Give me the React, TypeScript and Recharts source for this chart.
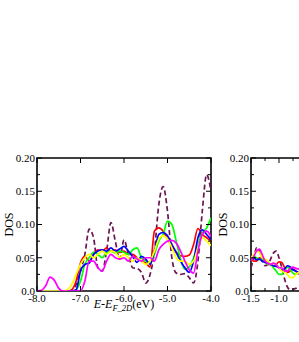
import { LineChart, Line, XAxis, YAxis, ReferenceArea } from "recharts";

// energy grids (eV)
const energyLeft = [
  -8.0, -7.9, -7.8, -7.7, -7.6, -7.5, -7.4, -7.3, -7.2, -7.1, -7.0, -6.9, -6.8, -6.7,
  -6.6, -6.5, -6.4, -6.3, -6.2, -6.1, -6.0, -5.9, -5.8, -5.7, -5.6, -5.5, -5.4, -5.3,
  -5.2, -5.1, -5.0, -4.9, -4.8, -4.7, -4.6, -4.5, -4.4, -4.3, -4.2, -4.1, -4.0,
];
const energyRight = [
  -1.5, -1.45, -1.4, -1.35, -1.3, -1.25, -1.2, -1.15, -1.1, -1.05, -1.0, -0.95, -0.9,
  -0.85, -0.8, -0.75, -0.7, -0.65, -0.6, -0.55, -0.5,
];

// DOS values, left window
const dashedLeft = [
  0, 0, 0, 0, 0, 0, 0, 0, 0, 0.01, 0.03, 0.055, 0.093, 0.08, 0.035, 0.03, 0.06, 0.103,
  0.075, 0.048, 0.077, 0.055, 0.035, 0.034, 0.028, 0.012, 0.025, 0.06, 0.13, 0.157, 0.12,
  0.05, 0.027, 0.025, 0.026, 0.02, 0.012, 0.045, 0.12, 0.175, 0.15,
];
const redLeft = [
  0, 0, 0, 0, 0, 0, 0, 0, 0.002, 0.015, 0.042, 0.052, 0.045, 0.055, 0.062, 0.06, 0.065,
  0.06, 0.062, 0.058, 0.06, 0.055, 0.055, 0.05, 0.045, 0.042, 0.036, 0.09, 0.095, 0.09,
  0.078, 0.068, 0.058, 0.053, 0.052, 0.054, 0.07, 0.094, 0.085, 0.08, 0.075,
];
const greenLeft = [
  0, 0, 0, 0, 0, 0, 0, 0, 0, 0.002, 0.015, 0.04, 0.05, 0.058, 0.055, 0.05, 0.058, 0.06,
  0.057, 0.06, 0.058, 0.055, 0.062, 0.065, 0.05, 0.045, 0.042, 0.055, 0.075, 0.085, 0.105,
  0.1, 0.075, 0.048, 0.033, 0.036, 0.05, 0.07, 0.087, 0.095, 0.11,
];
const blueLeft = [
  0, 0, 0, 0, 0, 0, 0, 0, 0, 0.002, 0.03, 0.04, 0.042, 0.055, 0.06, 0.062, 0.06, 0.065,
  0.06, 0.063, 0.067, 0.06, 0.052, 0.043, 0.052, 0.048, 0.04, 0.06, 0.085, 0.088, 0.083,
  0.07, 0.058, 0.045, 0.035, 0.028, 0.045, 0.08, 0.092, 0.085, 0.077,
];
const yellowLeft = [
  0, 0, 0, 0, 0, 0, 0, 0.002, 0.01, 0.025, 0.04, 0.05, 0.055, 0.05, 0.055, 0.06, 0.055,
  0.06, 0.058, 0.05, 0.055, 0.05, 0.045, 0.05, 0.045, 0.04, 0.045, 0.06, 0.078, 0.083,
  0.078, 0.065, 0.05, 0.045, 0.045, 0.04, 0.045, 0.065, 0.08, 0.075, 0.068,
];
const magentaLeft = [
  0, 0.001, 0.008, 0.021, 0.016, 0.004, 0, 0, 0, 0, 0, 0.015, 0.045, 0.045, 0.035, 0.03,
  0.045, 0.055, 0.05, 0.048, 0.05, 0.045, 0.052, 0.048, 0.045, 0.05, 0.05, 0.045, 0.062,
  0.07, 0.075, 0.076, 0.072, 0.06, 0.045, 0.032, 0.027, 0.06, 0.085, 0.09, 0.082,
];

// DOS values, right window
const dashedRight = [
  0.035, 0.05, 0.065, 0.06, 0.045, 0.038, 0.04, 0.048, 0.057, 0.06, 0.05, 0.035, 0.018,
  0.006, 0.002, 0.003, 0.004, 0.006, 0.01, 0.015, 0.02,
];
const redRight = [
  0.047, 0.045, 0.045, 0.05, 0.048, 0.045, 0.04, 0.04, 0.038, 0.04, 0.044, 0.043, 0.035,
  0.028, 0.03, 0.033, 0.03, 0.026, 0.025, 0.025, 0.025,
];
const greenRight = [
  0.05, 0.052, 0.05, 0.047, 0.048, 0.045, 0.04, 0.04, 0.035, 0.03, 0.025, 0.025, 0.032,
  0.036, 0.032, 0.027, 0.025, 0.027, 0.028, 0.027, 0.026,
];
const blueRight = [
  0.052, 0.05, 0.047, 0.048, 0.045, 0.043, 0.042, 0.04, 0.038, 0.037, 0.035, 0.032, 0.033,
  0.038, 0.036, 0.032, 0.03, 0.028, 0.027, 0.027, 0.026,
];
const yellowRight = [
  0.05, 0.055, 0.06, 0.058, 0.05, 0.048, 0.045, 0.04, 0.042, 0.04, 0.035, 0.03, 0.028,
  0.025, 0.02, 0.02, 0.025, 0.028, 0.03, 0.03, 0.029,
];
const magentaRight = [
  0.045, 0.052, 0.06, 0.063, 0.055, 0.045, 0.042, 0.04, 0.042, 0.04, 0.035, 0.035, 0.03,
  0.03, 0.034, 0.036, 0.034, 0.033, 0.03, 0.029, 0.028,
];

const yTicks = [0, 0.025, 0.05, 0.075, 0.1, 0.125, 0.15, 0.175, 0.2];
const xTicksLeft = [-8, -7, -6, -5, -4];
const xTicksRight = [-1.5, -1.25, -1.0, -0.75];

const FONT = "Liberation Serif, Times New Roman, serif";
const MAROON = "#6b1452";

const leftRows = energyLeft.map((e, i) => ({
  e,
  dashed: dashedLeft[i],
  red: redLeft[i],
  green: greenLeft[i],
  blue: blueLeft[i],
  yellow: yellowLeft[i],
  magenta: magentaLeft[i],
}));
const rightRows = energyRight.map((e, i) => ({
  e,
  dashed: dashedRight[i],
  red: redRight[i],
  green: greenRight[i],
  blue: blueRight[i],
  yellow: yellowRight[i],
  magenta: magentaRight[i],
}));

const PLOT_TOP = 158;
const PLOT_H = 133;
const MARGIN = 2;

function YTick(props: any) {
  const { x, y, payload, plotW } = props;
  const v = payload.value as number;
  const major = Math.abs(v * 20 - Math.round(v * 20)) < 1e-6;
  const ax = x + MARGIN;
  const len = major ? 5 : 3;
  return (
    <g>
      <line x1={ax} x2={ax + len} y1={y} y2={y} stroke="#000" strokeWidth={1} />
      <line x1={ax + plotW - len} x2={ax + plotW} y1={y} y2={y} stroke="#000" strokeWidth={1} />
      {major && (
        <text x={x} y={y} dy="0.35em" textAnchor="end" fontFamily={FONT} fontSize={11} fill="#000">
          {v === 0 ? "0.0" : v.toFixed(2)}
        </text>
      )}
    </g>
  );
}

function XTick(props: any) {
  const { x, y, payload, step } = props;
  const v = payload.value as number;
  const major = Math.abs(v / step - Math.round(v / step)) < 1e-6;
  const bottom = PLOT_TOP + PLOT_H;
  const len = major ? 5 : 3;
  return (
    <g>
      <line x1={x} x2={x} y1={bottom} y2={bottom - len} stroke="#000" strokeWidth={1} />
      <line x1={x} x2={x} y1={PLOT_TOP} y2={PLOT_TOP + len} stroke="#000" strokeWidth={1} />
      {major && (
        <text x={x} y={y} dy="0.71em" textAnchor="middle" fontFamily={FONT} fontSize={11} fill="#000">
          {v.toFixed(1)}
        </text>
      )}
    </g>
  );
}

function DosLabel({ viewBox }: any) {
  const cx = viewBox.x + 6.3;
  const cy = PLOT_TOP + PLOT_H / 2;
  return (
    <text x={cx} y={cy} textAnchor="middle" transform={`rotate(-90, ${cx}, ${cy})`} fontFamily={FONT} fontSize={12} fill="#000">
      DOS
    </text>
  );
}

function EnergyLabel({ viewBox }: any) {
  const cx = viewBox.x + viewBox.width / 2;
  const by = PLOT_TOP + PLOT_H + 17;
  return (
    <text x={cx} y={by} textAnchor="middle" fontFamily={FONT} fontSize={12} fill="#000">
      <tspan fontStyle="italic">E-E</tspan>
      <tspan fontStyle="italic" fontSize={8.5} dy={3}>F_2D</tspan>
      <tspan dy={-3}>(eV)</tspan>
    </text>
  );
}

function Series() {
  const w = 1.7;
  return [
    <Line key="d" dataKey="dashed" type="monotone" stroke={MAROON} strokeWidth={w} strokeDasharray="5 3" dot={false} isAnimationActive={false} />,
    <Line key="r" dataKey="red" type="monotone" stroke="#ff0000" strokeWidth={w} dot={false} isAnimationActive={false} />,
    <Line key="g" dataKey="green" type="monotone" stroke="#00ff00" strokeWidth={w} dot={false} isAnimationActive={false} />,
    <Line key="b" dataKey="blue" type="monotone" stroke="#0000ff" strokeWidth={w} dot={false} isAnimationActive={false} />,
    <Line key="y" dataKey="yellow" type="monotone" stroke="#ffff00" strokeWidth={w} dot={false} isAnimationActive={false} />,
    <Line key="m" dataKey="magenta" type="monotone" stroke="#ff00ff" strokeWidth={w} dot={false} isAnimationActive={false} />,
  ];
}

export default function App() {
  return (
    <div style={{ position: "absolute", left: 0, top: 0, width: 299, height: 342, overflow: "hidden", background: "#fff" }}>
      <div style={{ position: "absolute", left: 0, top: 0 }}>
        <LineChart width={230} height={342} data={leftRows} margin={{ top: PLOT_TOP, right: 19, bottom: 21, left: 7 }}>
          <XAxis
            dataKey="e"
            type="number"
            domain={[-8, -4]}
            ticks={xTicksLeft}
            interval={0}
            allowDataOverflow
            axisLine={false}
            tickLine={false}
            tickSize={0}
            tickMargin={3}
            height={30}
            tick={(p: any) => <XTick {...p} step={1} />}
            label={{ content: (p: any) => <EnergyLabel {...p} /> }}
          />
          <YAxis
            type="number"
            domain={[0, 0.2]}
            ticks={yTicks}
            interval={0}
            allowDataOverflow
            axisLine={false}
            tickLine={false}
            tickSize={0}
            tickMargin={MARGIN}
            width={30}
            tick={(p: any) => <YTick {...p} plotW={174} />}
            label={{ content: (p: any) => <DosLabel {...p} /> }}
          />
          <ReferenceArea x1={-8} x2={-4} y1={0} y2={0.2} fill="none" stroke="#000" strokeWidth={1.6} ifOverflow="visible" />
          {Series()}
        </LineChart>
      </div>
      <div style={{ position: "absolute", left: 215, top: 0 }}>
        <LineChart width={152} height={342} data={rightRows} margin={{ top: PLOT_TOP, right: 4, bottom: 21, left: 6 }}>
          <XAxis
            dataKey="e"
            type="number"
            domain={[-1.5, 0.5]}
            ticks={xTicksRight}
            interval={0}
            allowDataOverflow
            axisLine={false}
            tickLine={false}
            tickSize={0}
            tickMargin={3}
            height={30}
            tick={(p: any) => <XTick {...p} step={0.5} />}
          />
          <YAxis
            type="number"
            domain={[0, 0.2]}
            ticks={yTicks}
            interval={0}
            allowDataOverflow
            axisLine={false}
            tickLine={false}
            tickSize={0}
            tickMargin={MARGIN}
            width={30}
            tick={(p: any) => <YTick {...p} plotW={112} />}
            label={{ content: (p: any) => <DosLabel {...p} /> }}
          />
          <ReferenceArea x1={-1.5} x2={0.5} y1={0} y2={0.2} fill="none" stroke="#000" strokeWidth={1.6} ifOverflow="visible" />
          {Series()}
        </LineChart>
      </div>
    </div>
  );
}
